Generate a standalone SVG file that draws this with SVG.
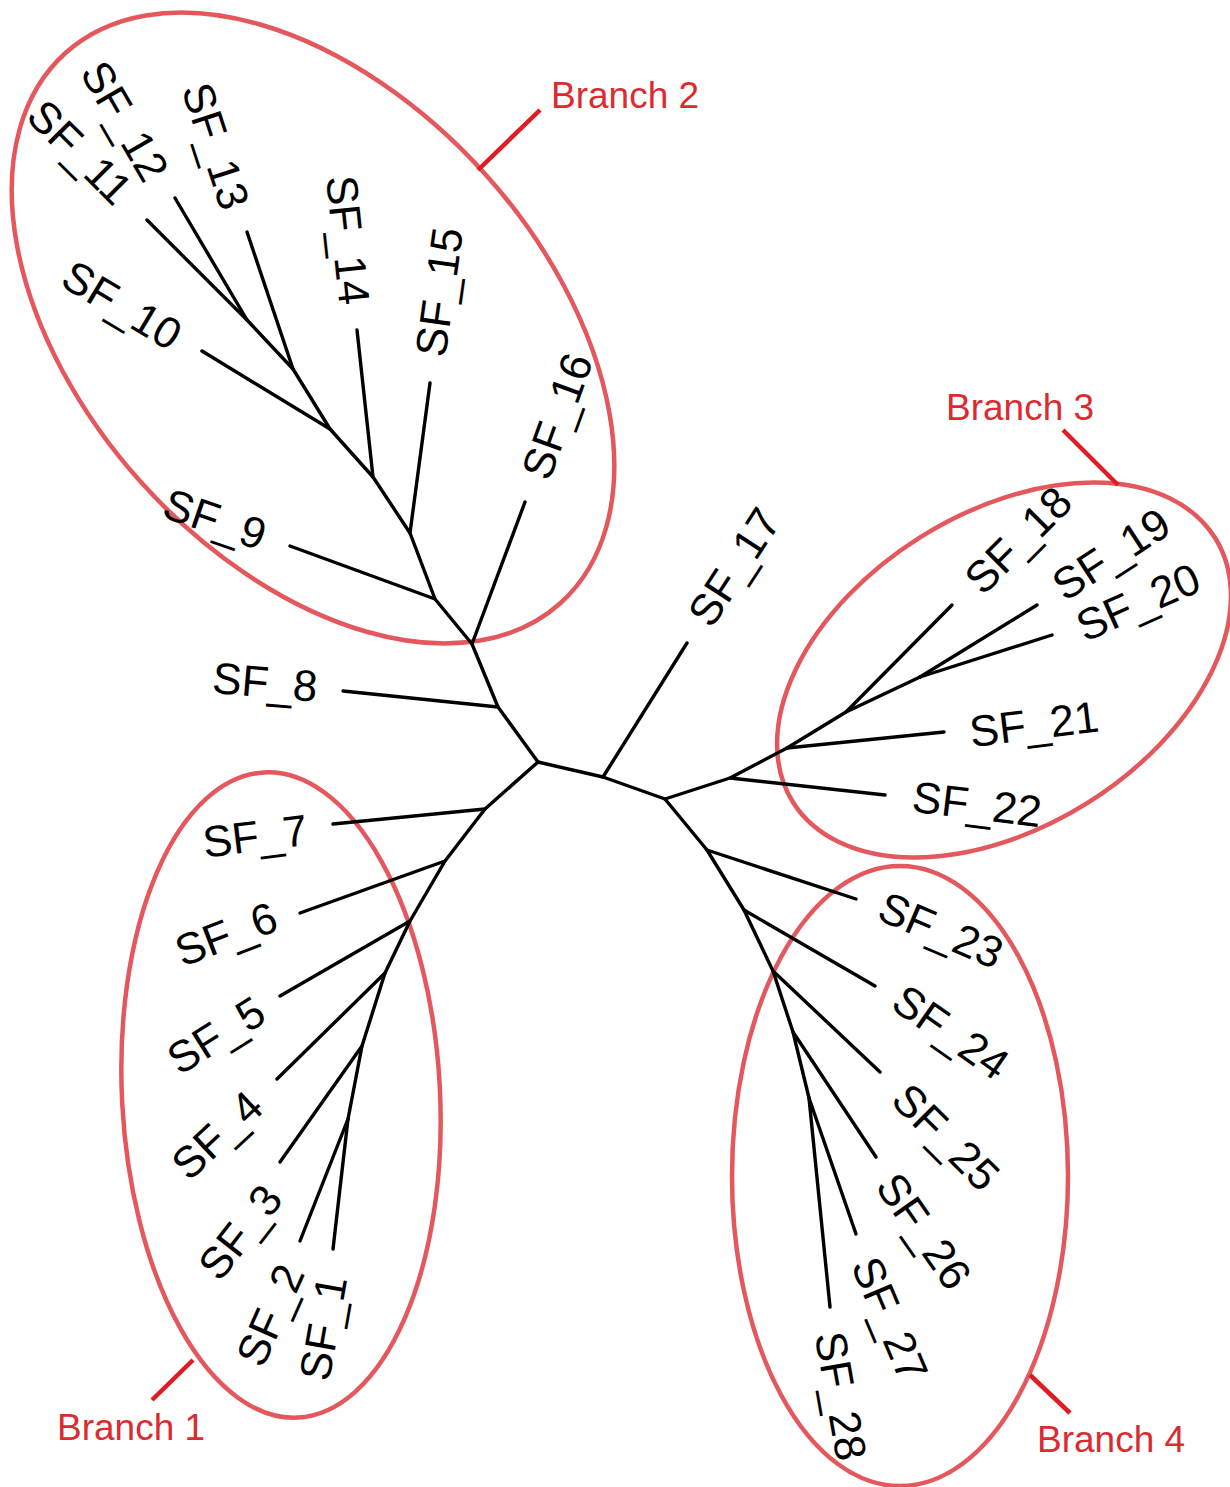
<svg xmlns="http://www.w3.org/2000/svg" width="1230" height="1487" viewBox="0 0 1230 1487">
<style>
.bg{fill:#ffffff}
.e{fill:none;stroke:#000;stroke-width:3.4;stroke-linecap:round;stroke-linejoin:round}
.lbl{font-family:"Liberation Sans",Arial,sans-serif;font-size:44px;fill:#000;text-anchor:middle}
.ring{fill:none;stroke:#e4585d;stroke-width:4.5}
.lead{stroke:#e01b22;stroke-width:4.5;stroke-linecap:butt}
.blbl{font-family:"Liberation Sans",Arial,sans-serif;font-size:37px;fill:#dc2a31}
</style>
<rect class="bg" x="0" y="0" width="1230" height="1487"/>

<g id="clusters">
  <g id="branch1">
    <ellipse class="ring" cx="281" cy="1095" rx="159" ry="323" transform="rotate(-3 281 1095)"/>
    <line class="lead" x1="152" y1="1400" x2="193" y2="1360"/>
    <text class="blbl" x="57" y="1440">Branch 1</text>
  </g>
  <g id="branch2">
    <ellipse class="ring" cx="313" cy="328" rx="370" ry="231" transform="rotate(48 313 328)"/>
    <line class="lead" x1="540" y1="110" x2="478" y2="170"/>
    <text class="blbl" x="551" y="108">Branch 2</text>
  </g>
  <g id="branch3">
    <ellipse class="ring" cx="1004" cy="670" rx="249" ry="157" transform="rotate(-32 1004 670)"/>
    <line class="lead" x1="1063" y1="430" x2="1118" y2="485"/>
    <text class="blbl" x="946" y="420">Branch 3</text>
  </g>
  <g id="branch4">
    <ellipse class="ring" cx="900" cy="1176" rx="168" ry="310"/>
    <line class="lead" x1="1030" y1="1375" x2="1070" y2="1413"/>
    <text class="blbl" x="1037" y="1452">Branch 4</text>
  </g>
</g>

<g id="connectors">
  <!-- center -->
  <polyline class="e" points="538,762 603,777 665,799"/>
  <line class="e" x1="603" y1="777" x2="687" y2="643"/>
  <!-- branch 2 trunk -->
  <polyline class="e" points="538,762 498,707 472,644 435,599 410,533 373,477 330,429 293,369 247,320"/>
  <line class="e" x1="498" y1="707" x2="343" y2="691"/>
  <line class="e" x1="472" y1="644" x2="525" y2="502"/>
  <line class="e" x1="435" y1="599" x2="290" y2="546"/>
  <line class="e" x1="410" y1="533" x2="430" y2="383"/>
  <line class="e" x1="373" y1="477" x2="357" y2="330"/>
  <line class="e" x1="330" y1="429" x2="202" y2="351"/>
  <line class="e" x1="293" y1="369" x2="247" y2="232"/>
  <line class="e" x1="247" y1="320" x2="175" y2="198"/>
  <line class="e" x1="247" y1="320" x2="147" y2="220"/>
  <!-- branch 3 -->
  <polyline class="e" points="665,799 730,778 787,748 846,712 920,677"/>
  <line class="e" x1="730" y1="778" x2="885" y2="795"/>
  <line class="e" x1="787" y1="748" x2="944" y2="732"/>
  <line class="e" x1="846" y1="712" x2="952" y2="605"/>
  <line class="e" x1="920" y1="677" x2="1037" y2="605"/>
  <line class="e" x1="920" y1="677" x2="1052" y2="635"/>
  <!-- branch 4 -->
  <polyline class="e" points="665,799 707,850 744,910 773,971 793,1032 809,1098"/>
  <line class="e" x1="707" y1="850" x2="856" y2="899"/>
  <line class="e" x1="744" y1="910" x2="875" y2="986"/>
  <line class="e" x1="773" y1="971" x2="880" y2="1072"/>
  <line class="e" x1="793" y1="1032" x2="876" y2="1157"/>
  <line class="e" x1="809" y1="1098" x2="856" y2="1234"/>
  <line class="e" x1="809" y1="1098" x2="830" y2="1307"/>
  <!-- branch 1 -->
  <polyline class="e" points="538,762 485,809 445,861 410,921 385,973 362,1046 348,1119"/>
  <line class="e" x1="485" y1="809" x2="333" y2="824"/>
  <line class="e" x1="445" y1="861" x2="300" y2="913"/>
  <line class="e" x1="410" y1="921" x2="280" y2="996"/>
  <line class="e" x1="385" y1="973" x2="277" y2="1079"/>
  <line class="e" x1="362" y1="1046" x2="280" y2="1162"/>
  <line class="e" x1="348" y1="1119" x2="300" y2="1241"/>
  <line class="e" x1="348" y1="1119" x2="333" y2="1249"/>
</g>

<g id="SF_1"><text class="lbl" dy=".35em" transform="translate(323 1328) rotate(-80)">SF_1</text></g>
<g id="SF_2"><text class="lbl" dy=".35em" transform="translate(270 1315) rotate(-66)">SF_2</text></g>
<g id="SF_3"><text class="lbl" dy=".35em" transform="translate(240 1232) rotate(-52)">SF_3</text></g>
<g id="SF_4"><text class="lbl" dy=".35em" transform="translate(217 1135) rotate(-43)">SF_4</text></g>
<g id="SF_5"><text class="lbl" dy=".35em" transform="translate(216 1035) rotate(-32)">SF_5</text></g>
<g id="SF_6"><text class="lbl" dy=".35em" transform="translate(226 934) rotate(-21)">SF_6</text></g>
<g id="SF_7"><text class="lbl" dy=".35em" transform="translate(255 836) rotate(-7)">SF_7</text></g>
<g id="SF_8"><text class="lbl" dy=".35em" transform="translate(265 682) rotate(5)">SF_8</text></g>
<g id="SF_9"><text class="lbl" dy=".35em" transform="translate(215 519) rotate(19)">SF_9</text></g>
<g id="SF_10"><text class="lbl" dy=".35em" transform="translate(122 305) rotate(31)">SF_10</text></g>
<g id="SF_11"><text class="lbl" dy=".35em" transform="translate(80 152) rotate(45)">SF_11</text></g>
<g id="SF_12"><text class="lbl" dy=".35em" transform="translate(125 121) rotate(60)">SF_12</text></g>
<g id="SF_13"><text class="lbl" dy=".35em" transform="translate(216 146) rotate(72)">SF_13</text></g>
<g id="SF_14"><text class="lbl" dy=".35em" transform="translate(348 240) rotate(84)">SF_14</text></g>
<g id="SF_15"><text class="lbl" dy=".35em" transform="translate(439 292) rotate(-82)">SF_15</text></g>
<g id="SF_16"><text class="lbl" dy=".35em" transform="translate(557 416) rotate(-70)">SF_16</text></g>
<g id="SF_17"><text class="lbl" dy=".35em" transform="translate(734 567) rotate(-57)">SF_17</text></g>
<g id="SF_18"><text class="lbl" dy=".35em" transform="translate(1018 540) rotate(-45)">SF_18</text></g>
<g id="SF_19"><text class="lbl" dy=".35em" transform="translate(1111 554) rotate(-33)">SF_19</text></g>
<g id="SF_20"><text class="lbl" dy=".35em" transform="translate(1138 602) rotate(-24)">SF_20</text></g>
<g id="SF_21"><text class="lbl" dy=".35em" transform="translate(1034 724) rotate(-7)">SF_21</text></g>
<g id="SF_22"><text class="lbl" dy=".35em" transform="translate(977 804) rotate(7)">SF_22</text></g>
<g id="SF_23"><text class="lbl" dy=".35em" transform="translate(941 930) rotate(23)">SF_23</text></g>
<g id="SF_24"><text class="lbl" dy=".35em" transform="translate(951 1032) rotate(35)">SF_24</text></g>
<g id="SF_25"><text class="lbl" dy=".35em" transform="translate(946 1137) rotate(45)">SF_25</text></g>
<g id="SF_26"><text class="lbl" dy=".35em" transform="translate(924 1231) rotate(55)">SF_26</text></g>
<g id="SF_27"><text class="lbl" dy=".35em" transform="translate(890 1319) rotate(67)">SF_27</text></g>
<g id="SF_28"><text class="lbl" dy=".35em" transform="translate(841 1396) rotate(80)">SF_28</text></g>
</svg>
